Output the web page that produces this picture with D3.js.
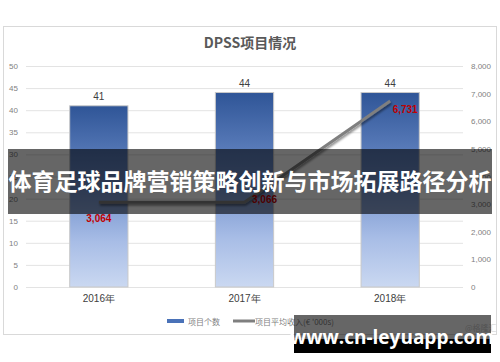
<!DOCTYPE html>
<html>
<head>
<meta charset="utf-8">
<script src="https://cdn.jsdelivr.net/npm/d3@7"></script>
<style>
  body { margin: 0; background: #fff; }
  svg { display: block; font-family: "Noto Sans CJK SC", "DejaVu Sans", sans-serif; }
</style>
</head>
<body>
<div id="chart"></div>
<script>
// data
var years = ["2016年", "2017年", "2018年"];
var projectCount = [41, 44, 44];
var avgIncome = [3064, 3066, 6731];
var leftTicks = [0, 5, 10, 15, 20, 25, 30, 35, 40, 45, 50];
var rightTicks = [0, 1000, 2000, 3000, 4000, 5000, 6000, 7000, 8000];

var W = 500, H = 362;
var margin = { top: 66, left: 26, right: 37, bottom: 75 };
var width = W - margin.left - margin.right,
    height = H - margin.top - margin.bottom;

var svg = d3.select("#chart").append("svg")
    .attr("width", W).attr("height", H);

var defs = svg.append("defs");
var grad = defs.append("linearGradient")
    .attr("id", "barGrad").attr("x1", 0).attr("y1", 0).attr("x2", 0).attr("y2", 1);
grad.append("stop").attr("offset", "0%").attr("stop-color", "#2f5597");
grad.append("stop").attr("offset", "45%").attr("stop-color", "#6f8fcb");
grad.append("stop").attr("offset", "75%").attr("stop-color", "#a8bde6");
grad.append("stop").attr("offset", "100%").attr("stop-color", "#cad8f1");

var shadow = defs.append("filter").attr("id", "lineShadow")
    .attr("x", "-20%").attr("y", "-20%").attr("width", "140%").attr("height", "140%");
shadow.append("feDropShadow").attr("dx", 1).attr("dy", 2).attr("stdDeviation", 1.2)
    .attr("flood-color", "#000").attr("flood-opacity", 0.45);

// chart frame
svg.append("rect")
    .attr("x", 3.5).attr("y", 26.5).attr("width", 493).attr("height", 308)
    .attr("fill", "#fff").attr("stroke", "#d9d9d9");

svg.append("text")
    .attr("x", 250).attr("y", 48)
    .attr("text-anchor", "middle")
    .attr("font-size", 14).attr("font-weight", "bold")
    .attr("fill", "#595959")
    .text("DPSS项目情况");

var g = svg.append("g")
    .attr("transform", "translate(" + margin.left + "," + margin.top + ")");

var x = d3.scaleBand().domain(years).range([0, width]).paddingInner(0.6).paddingOuter(0.3);
var yL = d3.scaleLinear().domain([0, 50]).range([height, 0]);
var yR = d3.scaleLinear().domain([0, 8000]).range([height, 0]);

// gridlines
g.selectAll(".grid").data(leftTicks).enter().append("line")
    .attr("x1", 0).attr("x2", width)
    .attr("y1", function (d) { return yL(d) + 0.5; })
    .attr("y2", function (d) { return yL(d) + 0.5; })
    .attr("stroke", "#e3e3e3").attr("stroke-width", 1);

// left axis
var axL = g.append("g").call(d3.axisLeft(yL).tickValues(leftTicks).tickSize(0).tickPadding(8));
axL.select(".domain").remove();
axL.selectAll("text").attr("fill", "#7f7f7f").attr("font-size", 8).attr("font-family", "Liberation Sans, Arial, sans-serif");

// right axis
var axR = g.append("g").attr("transform", "translate(" + width + ",0)")
    .call(d3.axisRight(yR).tickValues(rightTicks).tickSize(0).tickPadding(8).tickFormat(d3.format(",")));
axR.select(".domain").remove();
axR.selectAll("text").attr("fill", "#7f7f7f").attr("font-size", 8).attr("font-family", "Liberation Sans, Arial, sans-serif");

// bottom axis
var axB = g.append("g").attr("transform", "translate(0," + height + ")")
    .call(d3.axisBottom(x).tickSize(0).tickPadding(8));
axB.select(".domain").remove();
axB.selectAll("text").attr("fill", "#404040").attr("font-size", 10);

// bars
g.selectAll(".bar").data(projectCount).enter().append("rect")
    .attr("x", function (d, i) { return x(years[i]); })
    .attr("y", function (d) { return yL(d); })
    .attr("width", x.bandwidth())
    .attr("height", function (d) { return height - yL(d); })
    .attr("fill", "url(#barGrad)")
    .attr("stroke", "#c9c9c9").attr("stroke-width", 1);

g.selectAll(".barLabel").data(projectCount).enter().append("text")
    .attr("x", function (d, i) { return x(years[i]) + x.bandwidth() / 2; })
    .attr("y", function (d) { return yL(d) - 6; })
    .attr("text-anchor", "middle")
    .attr("font-size", 10).attr("fill", "#404040")
    .attr("font-family", "Liberation Sans, Arial, sans-serif")
    .text(function (d) { return d; });

// line
var line = d3.line()
    .x(function (d, i) { return x(years[i]) + x.bandwidth() / 2; })
    .y(function (d) { return yR(d); });
g.append("path").datum(avgIncome)
    .attr("d", line)
    .attr("fill", "none").attr("stroke", "#7f7f7f").attr("stroke-width", 3)
    .attr("filter", "url(#lineShadow)");

var labelOffset = [[0, 20], [20, 1], [15, 12]];
g.selectAll(".lineLabel").data(avgIncome).enter().append("text")
    .attr("x", function (d, i) { return x(years[i]) + x.bandwidth() / 2 + labelOffset[i][0]; })
    .attr("y", function (d, i) { return yR(d) + labelOffset[i][1]; })
    .attr("text-anchor", "middle")
    .attr("font-size", 10).attr("font-weight", "bold").attr("fill", "#c00000")
    .attr("font-family", "Liberation Sans, Arial, sans-serif")
    .text(function (d) { return d3.format(",")(d); });

// legend
var leg = svg.append("g").attr("transform", "translate(167,321)");
leg.append("rect").attr("x", 0).attr("y", -2).attr("width", 17).attr("height", 4).attr("fill", "#4a72b8");
leg.append("text").attr("x", 21).attr("y", 3.5).attr("font-size", 8).attr("fill", "#7f7f7f").text("项目个数");
leg.append("line").attr("x1", 66).attr("x2", 88).attr("y1", 0).attr("y2", 0)
    .attr("stroke", "#7f7f7f").attr("stroke-width", 3);
leg.append("text").attr("x", 88).attr("y", 3.5).attr("font-size", 8).attr("fill", "#7f7f7f").text("项目平均收入(€ '000s)");

svg.append("text").attr("x", 465).attr("y", 331).attr("font-size", 8).attr("fill", "#cfcfcf").text("@格隆汇");

// overlay banner
svg.append("rect").attr("x", 8).attr("y", 149).attr("width", 484).attr("height", 65)
    .attr("fill", "#000").attr("fill-opacity", 0.6);
svg.append("text").attr("x", 250).attr("y", 190)
    .attr("text-anchor", "middle")
    .attr("font-size", 23).attr("font-weight", "bold").attr("fill", "#fff")
    .text("体育足球品牌营销策略创新与市场拓展路径分析");

// site watermark
svg.append("rect").attr("x", 294).attr("y", 315).attr("width", 197).attr("height", 24)
    .attr("fill", "#000").attr("fill-opacity", 0.6);
svg.append("rect").attr("x", 294).attr("y", 339).attr("width", 197).attr("height", 14)
    .attr("fill", "#000");
svg.append("text").attr("x", 392).attr("y", 344)
    .attr("text-anchor", "middle")
    .attr("font-size", 19).attr("font-weight", "bold").attr("fill", "#fff")
    .attr("font-family", "Open Sans, DejaVu Sans, sans-serif")
    .text("www.cn-leyuapp.com");
</script>
</body>
</html>
